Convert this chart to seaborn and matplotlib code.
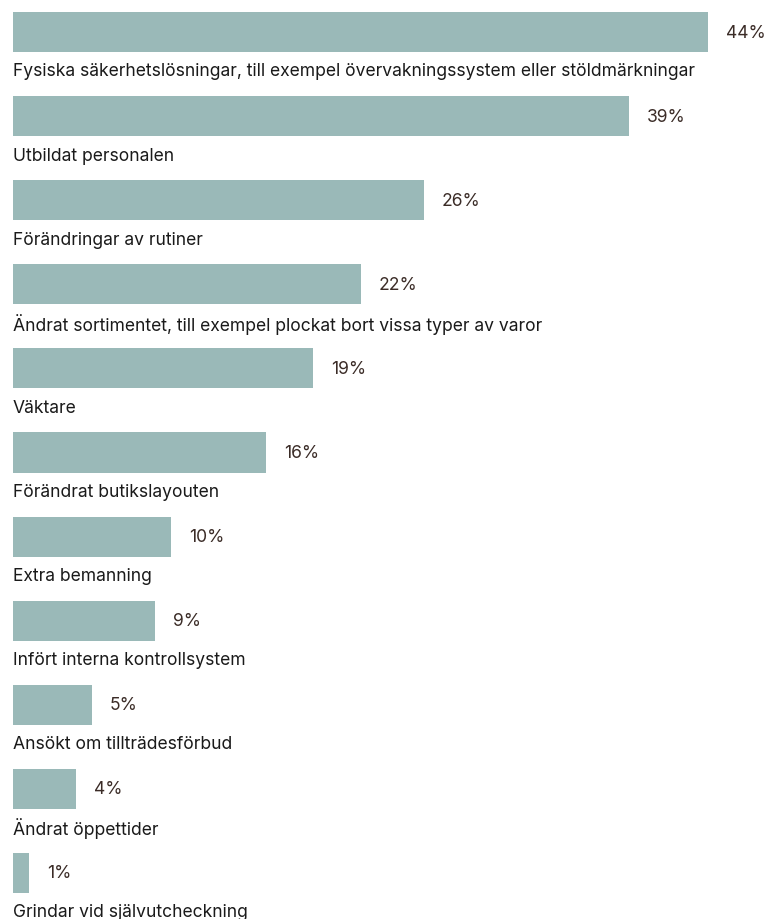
import matplotlib
matplotlib.use("Agg")
import matplotlib.pyplot as plt
import seaborn as sns
import pandas as pd

# Åtgärder och andel (%)
kategorier = [
    "Fysiska säkerhetslösningar, till exempel övervakningssystem eller stöldmärkningar",
    "Utbildat personalen",
    "Förändringar av rutiner",
    "Ändrat sortimentet, till exempel plockat bort vissa typer av varor",
    "Väktare",
    "Förändrat butikslayouten",
    "Extra bemanning",
    "Infört interna kontrollsystem",
    "Ansökt om tillträdesförbud",
    "Ändrat öppettider",
    "Grindar vid självutcheckning",
]
andelar = [44, 39, 26, 22, 19, 16, 10, 9, 5, 4, 1]

BAR_COLOR = "#9ab9b8"
LABEL_COLOR = "#1a1a1a"
VALUE_COLOR = "#3b2c27"

sns.set_theme(style="white")
plt.rcParams["font.family"] = ["Inter", "DejaVu Sans"]

W, H = 767, 920
fig = plt.figure(figsize=(W / 100, H / 100), dpi=100)
ax = fig.add_axes([13 / W, 0, 1 - 13 / W, 1])

df = pd.DataFrame({"kategori": kategorier, "andel": andelar})
sns.barplot(data=df, x="andel", y="kategori", color=BAR_COLOR,
            width=0.476, saturation=1, linewidth=0, ax=ax)

px_per_pct = 15.8
spacing = 84.1
ax.set_xlim(0, (W - 13) / px_per_pct)
ax.set_ylim((H - 33) / spacing, -33 / spacing)

for i, (k, v) in enumerate(zip(kategorier, andelar)):
    ax.text(v + 18 / px_per_pct, i, f"{v}%", va="center", ha="left",
            fontsize=12.6, color=VALUE_COLOR)
    ax.text(0, i + 39 / spacing, k, va="center", ha="left",
            fontsize=12.6, color=LABEL_COLOR)

ax.set_xlabel("")
ax.set_ylabel("")
ax.set_xticks([])
ax.set_yticks([])
sns.despine(ax=ax, left=True, bottom=True)

fig.savefig("out.png", dpi=100)
